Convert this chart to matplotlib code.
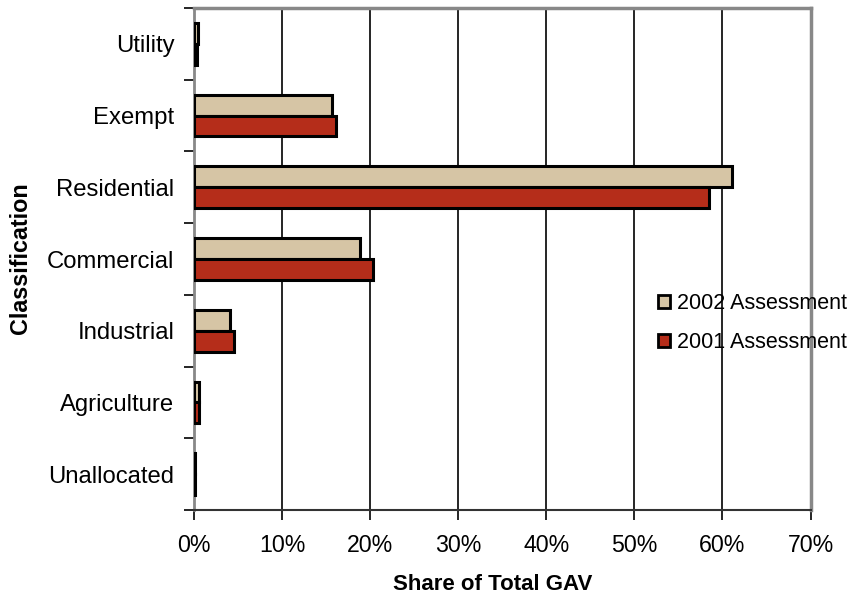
import matplotlib
matplotlib.use("Agg")
import matplotlib.pyplot as plt
import numpy as np
from matplotlib.ticker import FuncFormatter

categories = ["Utility", "Exempt", "Residential", "Commercial", "Industrial", "Agriculture", "Unallocated"]
series_2002 = [0.4, 15.7, 61.1, 18.8, 4.1, 0.6, 0.1]
series_2001 = [0.3, 16.1, 58.5, 20.3, 4.5, 0.6, 0.1]
labels = ["2002 Assessment", "2001 Assessment"]
colors = ["#D6C5A5", "#B52D1A"]

plt.rcParams['font.family'] = ['Liberation Sans', 'DejaVu Sans']

fig = plt.figure(figsize=(8.55, 6.02), dpi=100)
L, R, B, T = 194, 810.5, 510, 8
ax = fig.add_axes([L/855, 1-B/602, (R-L)/855, (B-T)/602])

y = np.arange(len(categories))
h = 0.29
ax.barh(y - h/2, series_2002, height=h, color=colors[0], edgecolor="black", linewidth=2.2, label=labels[0], zorder=3)
ax.barh(y + h/2, series_2001, height=h, color=colors[1], edgecolor="black", linewidth=2.2, label=labels[1], zorder=3)

ax.set_xlim(0, 70)
ax.set_ylim(len(categories) - 0.5, -0.5)
ax.set_xticks(np.arange(0, 71, 10))
ax.xaxis.set_major_formatter(FuncFormatter(lambda v, p: f"{int(v)}%"))
ax.set_yticks(np.arange(-0.5, len(categories), 1.0))
ax.set_yticklabels([])
ax.set_yticks(y, minor=True)
ax.set_yticklabels(categories, minor=True)
ax.tick_params(axis='y', which='minor', length=0, pad=14, labelsize=17.2)
ax.tick_params(axis='y', which='major', length=7, width=1.2, direction='out', color='black')
ax.tick_params(axis='x', length=7, width=1.2, direction='out', labelsize=16.7, pad=10)

for v in range(10, 70, 10):
    ax.axvline(v, color="black", linewidth=1.2, zorder=1)

for s in ["top", "right"]:
    ax.spines[s].set_color("#888888")
    ax.spines[s].set_linewidth(2.5)
ax.spines["left"].set_color("#888888")
ax.spines["left"].set_linewidth(2)
ax.spines["bottom"].set_color("#333333")
ax.spines["bottom"].set_linewidth(1.5)

ax.set_xlabel("Share of Total GAV", fontsize=16, fontweight="bold")
ax.set_ylabel("Classification", fontsize=16.8, fontweight="bold")
ax.xaxis.set_label_coords((493-L)/(R-L), (B-584)/(B-T))
ax.yaxis.set_label_coords((21-L)/(R-L), (B-258)/(B-T))
ax.xaxis.label.set_va("center")
ax.yaxis.label.set_va("center")

leg = ax.legend(loc="center left", bbox_to_anchor=(658/855, 1-323/602), bbox_transform=fig.transFigure,
                frameon=False, fontsize=15.5, handlelength=0.55, handleheight=0.55, handletextpad=0.35,
                labelspacing=0.85, borderaxespad=0, borderpad=0)
for p in leg.get_patches():
    p.set_linewidth(2)
leg.set_zorder(5)

fig.savefig("out.png", dpi=100)
